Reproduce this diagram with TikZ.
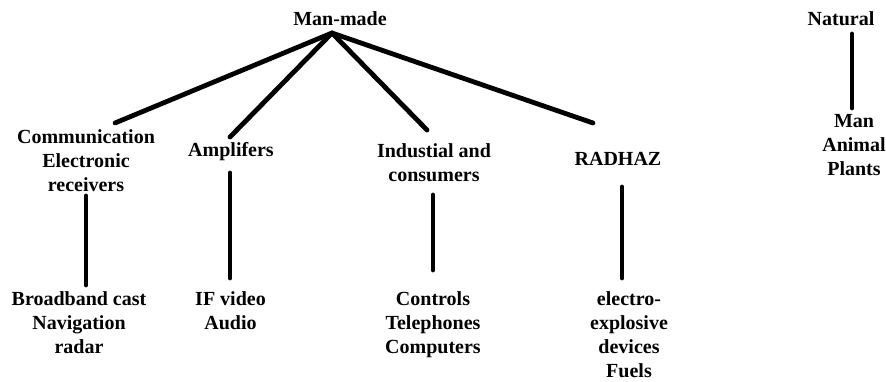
\documentclass[tikz,border=0pt]{standalone}
\usepackage{fontspec}
\setmainfont{Liberation Serif}
\begin{document}
\begin{tikzpicture}[x=1pt,y=-1pt,
  lbl/.style={anchor=north,inner sep=0pt,align=center,
    font=\bfseries\fontsize{20}{24}\selectfont,
    execute at begin node={\rule{0pt}{14pt}}},
  conn/.style={line width=4.8pt,line cap=round}]
\useasboundingbox (0,0) rectangle (886,382);
% labels (north = first baseline - 14)
\node[lbl] (mm) at (340,11) {Man-made};
\node[lbl] (nat) at (841,11) {Natural};
\node[lbl] (nat1) at (854,114) {Man\\Animal\\Plants};
\node[lbl] (comm) at (86,129) {Communication\\Electronic\\receivers};
\node[lbl] (amp) at (231,142) {Amplifers};
\node[lbl] (ind) at (434,143) {Industial and\\consumers};
\node[lbl] (rad) at (618,151) {RADHAZ};
\node[lbl] (comm1) at (79,291) {Broadband cast\\Navigation\\radar};
\node[lbl] (amp1) at (230.5,291) {IF video\\Audio};
\node[lbl] (ind1) at (433,291) {Controls\\Telephones\\Computers};
\node[lbl] (rad1) at (629,291) {electro-\\explosive\\devices\\Fuels};
% connector end points
\coordinate (apex) at (332,33);
\coordinate (cA) at (115,123);
\coordinate (aA) at (230,137);
\coordinate (iA) at (427,130);
\coordinate (rA) at (593,123);
\coordinate (cT) at (86,196);  \coordinate (cB) at (86,285);
\coordinate (aT) at (230,173); \coordinate (aB) at (230,278);
\coordinate (iT) at (433,195); \coordinate (iB) at (433,270);
\coordinate (rT) at (622,187); \coordinate (rB) at (622,278);
\coordinate (nT) at (852,34);  \coordinate (nB) at (852,108);
% connectors
\draw[conn] (apex) -- (cA);
\draw[conn] (apex) -- (aA);
\draw[conn] (apex) -- (iA);
\draw[conn] (apex) -- (rA);
\draw[conn] (cT) -- (cB);
\draw[conn] (aT) -- (aB);
\draw[conn] (iT) -- (iB);
\draw[conn] (rT) -- (rB);
\draw[conn] (nT) -- (nB);
\end{tikzpicture}
\end{document}
